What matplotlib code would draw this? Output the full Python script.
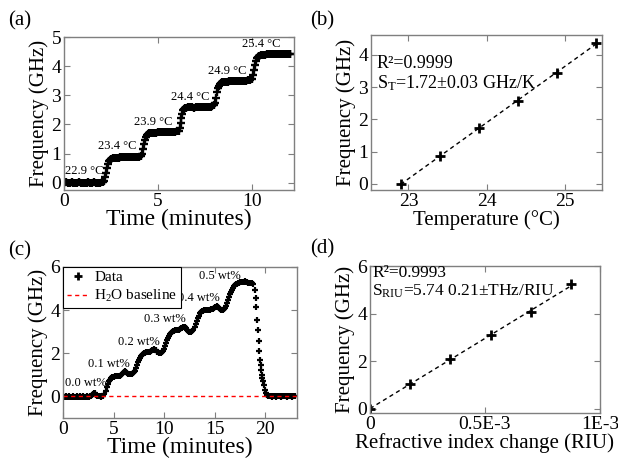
import numpy as np
import matplotlib
matplotlib.use("Agg")
import matplotlib.pyplot as plt
from matplotlib.lines import Line2D

plt.rcParams['font.family'] = ['Liberation Serif', 'DejaVu Serif']
plt.rcParams['mathtext.fontset'] = 'custom'
plt.rcParams['mathtext.rm'] = 'Liberation Serif'
plt.rcParams['mathtext.it'] = 'Liberation Serif:italic'

# ---- (a) frequency vs time during temperature steps ----
time_a = [0.0, 0.1, 0.2, 0.3, 0.4, 0.5, 0.6, 0.7, 0.8, 0.9, 1.0, 1.1, 1.2, 1.3, 1.4, 1.5,
          1.6, 1.7, 1.8, 1.9, 2.0, 2.1,
          2.15, 2.2, 2.25, 2.3, 2.35, 2.4, 2.45, 2.5, 2.6, 2.7, 2.8, 2.9, 3.0, 3.1, 3.2,
          3.3, 3.4, 3.5, 3.6, 3.7, 3.8, 3.9, 4.0, 4.1,
          4.15, 4.2, 4.25, 4.3, 4.35, 4.4, 4.45, 4.5, 4.6, 4.7, 4.8, 4.9, 5.0, 5.1, 5.2,
          5.3, 5.4, 5.5, 5.6, 5.7, 5.8, 5.9, 6.0, 6.1,
          6.15, 6.2, 6.25, 6.3, 6.35, 6.4, 6.45, 6.5, 6.6, 6.7, 6.8, 6.9, 7.0, 7.1, 7.2,
          7.3, 7.4, 7.5, 7.6, 7.7, 7.8, 7.9, 8.0,
          8.05, 8.1, 8.15, 8.2, 8.25, 8.3, 8.35, 8.4, 8.5, 8.6, 8.7, 8.8, 8.9, 9.0, 9.1,
          9.2, 9.3, 9.4, 9.5, 9.6, 9.7, 9.8, 9.9, 10.0,
          10.05, 10.1, 10.15, 10.2, 10.25, 10.3, 10.35, 10.4, 10.5, 10.6, 10.7, 10.8,
          10.9, 11.0, 11.1, 11.2, 11.3, 11.4, 11.5, 11.6, 11.7, 11.8, 11.9, 12.0, 12.05]
freq_a = [0.0, 0.01, -0.01, 0.0, 0.01, 0.0, -0.01, 0.0, 0.01, 0.0, 0.0, -0.01, 0.0, 0.01,
          0.0, 0.0, 0.01, 0.0, -0.01, 0.0, 0.01, 0.02,
          0.06, 0.18, 0.35, 0.52, 0.65, 0.74, 0.79, 0.82, 0.84, 0.85, 0.86, 0.86, 0.87,
          0.87, 0.87, 0.88, 0.88, 0.88, 0.88, 0.89, 0.88, 0.89, 0.9, 0.93,
          1.0, 1.15, 1.32, 1.47, 1.58, 1.65, 1.68, 1.7, 1.71, 1.72, 1.72, 1.72, 1.73,
          1.73, 1.73, 1.73, 1.74, 1.74, 1.74, 1.74, 1.75, 1.75, 1.76, 1.79,
          1.88, 2.05, 2.22, 2.37, 2.48, 2.54, 2.57, 2.58, 2.59, 2.6, 2.6, 2.58, 2.6,
          2.6, 2.6, 2.6, 2.6, 2.6, 2.61, 2.61, 2.61, 2.62, 2.65,
          2.75, 2.92, 3.1, 3.24, 3.33, 3.38, 3.42, 3.44, 3.46, 3.47, 3.47, 3.48, 3.48,
          3.48, 3.48, 3.49, 3.49, 3.49, 3.5, 3.5, 3.5, 3.51, 3.52, 3.56,
          3.68, 3.88, 4.05, 4.18, 4.27, 4.32, 4.35, 4.36, 4.38, 4.39, 4.39, 4.4, 4.4,
          4.4, 4.41, 4.41, 4.41, 4.42, 4.42, 4.42, 4.42, 4.42, 4.42, 4.43, 4.42]
temp_labels = ['22.9 °C', '23.4 °C', '23.9 °C', '24.4 °C', '24.9 °C', '25.4 °C']
temp_label_x = [0.05, 2.82, 4.75, 6.72, 8.7, 10.47]
temp_label_y = [0.4, 1.25, 2.08, 2.95, 3.82, 4.75]

# ---- (b) calibration vs temperature ----
temperature = [22.9, 23.4, 23.9, 24.4, 24.9, 25.4]
freq_b = [0.0, 0.86, 1.72, 2.58, 3.45, 4.37]

# ---- (c) frequency vs time for sugar concentrations ----
time_c = [0.0, 0.1, 0.2, 0.3, 0.4, 0.5, 0.6, 0.7, 0.8, 0.9, 1.0, 1.1, 1.2, 1.3, 1.4, 1.5,
          1.6, 1.7, 1.8, 1.9, 2.0, 2.1, 2.2, 2.3, 2.4, 2.5, 2.6, 2.7, 2.8, 2.9,
          3.0, 3.1, 3.2, 3.3, 3.4, 3.5, 3.6, 3.7, 3.8, 3.9, 4.0,
          4.1, 4.2, 4.3, 4.4, 4.5, 4.6, 4.7, 4.8, 4.9, 5.0, 5.1, 5.2, 5.3, 5.4, 5.5,
          5.6, 5.7, 5.8, 5.9, 6.0, 6.1, 6.2, 6.3, 6.4, 6.5, 6.6, 6.7, 6.8, 6.9, 7.0,
          7.1, 7.2, 7.3, 7.4, 7.5, 7.6, 7.7, 7.8, 7.9, 8.0, 8.1, 8.2, 8.3, 8.4, 8.5,
          8.6, 8.7, 8.8, 8.9, 9.0, 9.1, 9.2, 9.3, 9.4, 9.5, 9.6, 9.7, 9.8,
          9.9, 10.0, 10.1, 10.2, 10.3, 10.4, 10.5, 10.6, 10.7, 10.8, 10.9, 11.0, 11.1,
          11.2, 11.3, 11.4, 11.5, 11.6, 11.7, 11.8, 11.9, 12.0, 12.1, 12.2, 12.3, 12.4,
          12.5, 12.6, 12.7, 12.8,
          12.9, 13.0, 13.1, 13.2, 13.3, 13.4, 13.5, 13.6, 13.7, 13.8, 13.9, 14.0, 14.1,
          14.2, 14.3, 14.4, 14.5, 14.6, 14.7, 14.8, 14.9, 15.0, 15.1, 15.2, 15.3, 15.4,
          15.5, 15.6, 15.7, 15.8, 15.9,
          16.0, 16.1, 16.2, 16.3, 16.4, 16.5, 16.6, 16.7, 16.8, 16.9, 17.0, 17.1, 17.2,
          17.3, 17.4, 17.5, 17.6, 17.7, 17.8, 17.9, 18.0, 18.1, 18.2, 18.3, 18.4, 18.5,
          18.6, 18.7, 18.8,
          18.95, 19.05, 19.12, 19.2, 19.28, 19.35, 19.42, 19.48, 19.54, 19.6, 19.66,
          19.72, 19.78, 19.85, 19.95, 20.05, 20.15, 20.25, 20.35, 20.45,
          20.6, 20.7, 20.8, 20.9, 21.0, 21.1, 21.2, 21.3, 21.4, 21.5, 21.6, 21.7, 21.8,
          21.9, 22.0, 22.1, 22.2, 22.3, 22.4, 22.5, 22.6, 22.7, 22.8, 22.9]
freq_c = [0.0, -0.02, -0.01, 0.0, -0.02, -0.01, 0.0, -0.02, -0.01, -0.02, 0.0, -0.01,
          -0.02, -0.01, 0.0, -0.02, -0.01, 0.0, -0.02, -0.01, 0.0, -0.01, -0.02, -0.01,
          0.0, -0.01, -0.02, 0.0, 0.02, 0.05,
          0.1, 0.18, 0.15, 0.08, 0.03, 0.0, 0.0, 0.01, -0.01, 0.0, 0.02,
          0.1, 0.25, 0.42, 0.58, 0.7, 0.78, 0.84, 0.88, 0.9, 0.92, 0.93, 0.94, 0.95,
          0.95, 0.96, 0.97, 0.99, 1.02, 1.08, 1.14, 1.17, 1.13, 1.08, 1.05, 1.04, 1.04,
          1.05, 1.06, 1.08, 1.12,
          1.2, 1.32, 1.45, 1.58, 1.7, 1.8, 1.88, 1.93, 1.97, 2.0, 2.02, 2.04, 2.05,
          2.06, 2.07, 2.08, 2.1, 2.13, 2.16, 2.18, 2.17, 2.13, 2.08, 2.04, 2.02, 2.01,
          2.02, 2.05,
          2.12, 2.22, 2.35, 2.48, 2.6, 2.72, 2.82, 2.9, 2.96, 3.0, 3.03, 3.05, 3.06,
          3.07, 3.08, 3.09, 3.1, 3.12, 3.15, 3.19, 3.22, 3.24, 3.22, 3.16, 3.08, 3.03,
          3.0, 2.99, 3.0, 3.03,
          3.1, 3.22, 3.36, 3.5, 3.63, 3.75, 3.85, 3.92, 3.96, 3.98, 3.99, 4.0, 4.0,
          4.0, 4.01, 4.01, 4.02, 4.03, 4.05, 4.07, 4.1, 4.13, 4.16, 4.17, 4.14, 4.08,
          4.03, 4.0, 3.99, 4.0, 4.03,
          4.1, 4.2, 4.33, 4.47, 4.6, 4.73, 4.85, 4.95, 5.04, 5.11, 5.16, 5.2, 5.23,
          5.25, 5.27, 5.28, 5.29, 5.3, 5.31, 5.32, 5.33, 5.31, 5.29, 5.27, 5.26, 5.26,
          5.25, 5.24, 5.2,
          4.93, 4.55, 4.16, 3.55, 3.09, 2.55, 2.09, 1.71, 1.47, 1.24, 1.01,
          0.86, 0.71, 0.55, 0.32, 0.17, 0.08, 0.03, 0.01, 0.0,
          0.0, -0.01, 0.0, 0.01, 0.0, -0.01, 0.0, 0.0, 0.01, 0.0, -0.01, 0.0, 0.0,
          0.01, 0.0, -0.01, 0.0, 0.0, 0.01, 0.0, -0.01, 0.0, 0.01, 0.0]
conc_labels = ['0.0 wt%', '0.1 wt%', '0.2 wt%', '0.3 wt%', '0.4 wt%', '0.5 wt%']
conc_label_x = [2.25, 4.5, 7.5, 10.1, 13.45, 15.55]
conc_label_y = [0.63, 1.52, 2.52, 3.58, 4.55, 5.59]

# ---- (d) calibration vs refractive index change ----
riu = [0.0, 0.175e-3, 0.35e-3, 0.525e-3, 0.7e-3, 0.875e-3]
freq_d = [0.0, 1.07, 2.12, 3.09, 4.06, 5.23]

GREY = '#7f7f7f'
TICK_FS = 14
LABEL_FS = 15


def style_axes(ax):
    for sp in ax.spines.values():
        sp.set_color(GREY)
        sp.set_linewidth(1.0)
    ax.tick_params(direction='in', length=4, width=0.8, color=GREY,
                   top=True, right=True, labelsize=TICK_FS, pad=2)


fig = plt.figure(figsize=(6.18, 4.62), dpi=100)

# (a)
ax_a = fig.add_axes([0.1036, 0.5887, 0.3722, 0.3312])
ax_a.plot(time_a, freq_a, '+', color='black', markersize=6, mew=1.7)
for i, (txt, x, y) in enumerate(zip(temp_labels, temp_label_x, temp_label_y)):
    ax_a.text(x, y, txt, fontsize=9, ha='left' if i == 0 else 'center', va='center')
ax_a.set_xlim(0, 12.24)
ax_a.set_ylim(-0.25, 5)
ax_a.set_xticks([0, 5, 10])
ax_a.set_yticks([0, 1, 2, 3, 4, 5])
ax_a.set_xlabel('Time (minutes)', fontsize=17, labelpad=-1)
ax_a.set_ylabel('Frequency (GHz)', fontsize=LABEL_FS, labelpad=2)
style_axes(ax_a)

# (b)
ax_b = fig.add_axes([0.6003, 0.5887, 0.3743, 0.3355])
fit_b = np.polyfit(temperature, freq_b, 1)
ax_b.plot([temperature[0], temperature[-1]], np.polyval(fit_b, [temperature[0], temperature[-1]]),
          '--', color='black', lw=1.0, dashes=(3, 2.5))
ax_b.plot(temperature, freq_b, '+', color='black', markersize=7, mew=2)
ax_b.text(0.025, 0.817, 'R²=0.9999', transform=ax_b.transAxes, fontsize=13, va='center')
ax_b.text(0.025, 0.69, r'S$_\mathrm{T}$=1.72±0.03 GHz/K', transform=ax_b.transAxes,
          fontsize=13, va='center')
ax_b.set_xlim(22.52, 25.48)
ax_b.set_ylim(-0.19, 4.62)
ax_b.set_xticks([23, 24, 25])
ax_b.set_yticks([0, 1, 2, 3, 4])
ax_b.set_xlabel('Temperature (°C)', fontsize=LABEL_FS, labelpad=0)
ax_b.set_ylabel('Frequency (GHz)', fontsize=LABEL_FS, labelpad=2)
style_axes(ax_b)

# (c)
ax_c = fig.add_axes([0.102, 0.0952, 0.378, 0.327])
ax_c.plot(time_c, freq_c, '+', color='black', markersize=5, mew=1.6)
ax_c.axhline(0, color='red', ls='--', lw=1.0, dashes=(3, 2.5))
for txt, x, y in zip(conc_labels, conc_label_x, conc_label_y):
    ax_c.text(x, y, txt, fontsize=9, ha='center', va='center')
ax_c.set_xlim(0, 23.1)
ax_c.set_ylim(-1, 6)
ax_c.set_xticks([0, 5, 10, 15, 20])
ax_c.set_yticks([0, 2, 4, 6])
ax_c.set_xlabel('Time (minutes)', fontsize=17, labelpad=-1)
ax_c.set_ylabel('Frequency (GHz)', fontsize=LABEL_FS, labelpad=2)
style_axes(ax_c)
handles = [Line2D([], [], ls='none', marker='+', color='black', markersize=6, mew=2),
           Line2D([], [], ls='--', color='red', lw=1.0, dashes=(3, 2.5))]
leg = ax_c.legend(handles, ['Data', r'H$_2$O baseline'], loc='upper left', fontsize=11,
                  fancybox=False, framealpha=1, edgecolor='black', borderaxespad=0,
                  handlelength=1.4, handletextpad=0.4, borderpad=0.25, labelspacing=0.25)
leg.get_frame().set_linewidth(0.8)

# (d)
ax_d = fig.add_axes([0.5987, 0.106, 0.372, 0.318])
fit_d = np.polyfit(riu, freq_d, 1)
ax_d.plot([riu[0], riu[-1]], np.polyval(fit_d, [riu[0], riu[-1]]),
          '--', color='black', lw=1.0, dashes=(3, 2.5))
ax_d.plot(riu, freq_d, '+', color='black', markersize=7, mew=2)
ax_d.text(0.01, 0.955, 'R²=0.9993', transform=ax_d.transAxes, fontsize=12.5, va='center')
ax_d.text(0.01, 0.83, r'S$_\mathrm{RIU}$=5.74 0.21±THz/RIU', transform=ax_d.transAxes,
          fontsize=12.5, va='center')
ax_d.set_xlim(0, 1e-3)
ax_d.set_ylim(-0.17, 6)
ax_d.set_xticks([0, 0.5e-3, 1e-3])
ax_d.set_xticklabels(['0', '0.5E-3', '1E-3'])
ax_d.set_yticks([0, 2, 4, 6])
ax_d.set_xlabel('Refractive index change (RIU)', fontsize=LABEL_FS, labelpad=0)
ax_d.set_ylabel('Frequency (GHz)', fontsize=LABEL_FS, labelpad=2)
style_axes(ax_d)

# panel letters
for letter, x, y in [('(a)', 8, 21), ('(b)', 310, 21), ('(c)', 8, 251), ('(d)', 310, 249)]:
    fig.text(x / 618, 1 - y / 462, letter, fontsize=15, ha='left', va='center')

fig.savefig('out.png', dpi=100)
